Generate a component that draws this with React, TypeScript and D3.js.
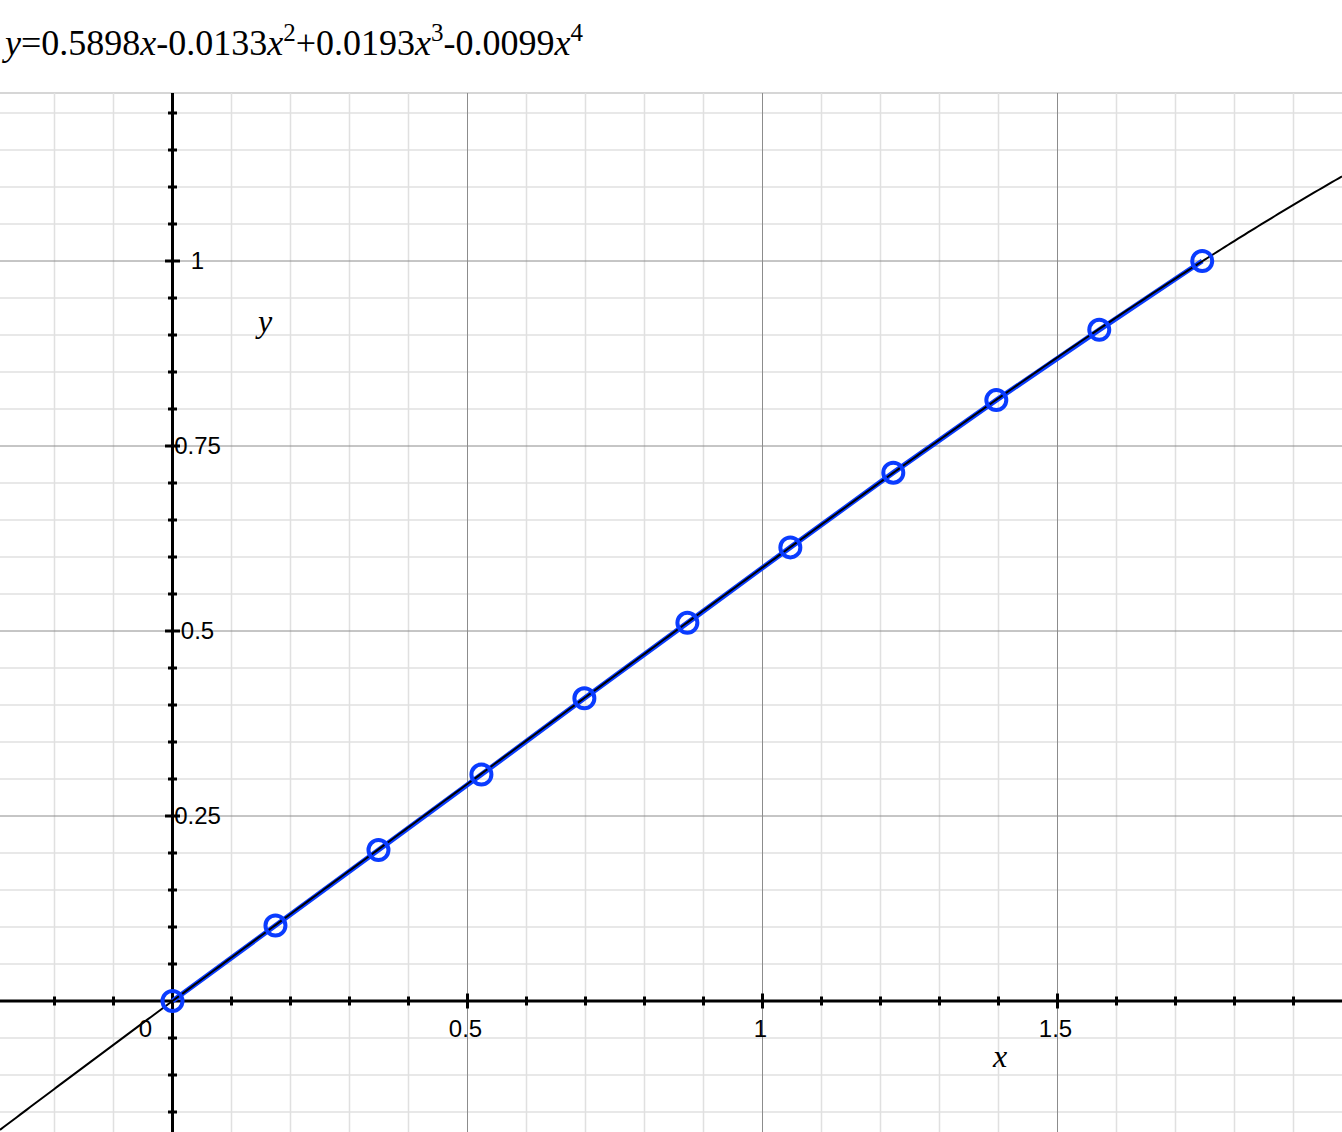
import React from "react";
import * as d3 from "d3";

const W = 1342;
const H = 1132;

const xData = [0, 0.1745, 0.3491, 0.5236, 0.6981, 0.8727, 1.0472, 1.2217, 1.3963, 1.5708, 1.7453];
const yData = [0, 0.102, 0.204, 0.306, 0.409, 0.511, 0.613, 0.714, 0.812, 0.907, 1.0];
const coefs = [0, 0.5898, -0.0133, 0.0193, -0.0099];
const xMajorTicks = [0.5, 1, 1.5];
const xMajorLabels = ["0.5", "1", "1.5"];
const yMajorTicks = [0.25, 0.5, 0.75, 1];
const yMajorLabels = ["0.25", "0.5", "0.75", "1"];

const TOP = 93;

export default function App() {
  const x = d3.scaleLinear().domain([0, 1]).range([172.5, 762.5]);
  const y = d3.scaleLinear().domain([0, 1]).range([1001, 261]);
  const xMin = x.invert(0);
  const xMax = x.invert(W);
  const yMin = y.invert(H);
  const yMax = y.invert(TOP);

  const minorX: number[] = [];
  for (let v = Math.ceil(xMin / 0.1) * 0.1; v <= xMax; v += 0.1) minorX.push(+v.toFixed(4));
  const minorY: number[] = [];
  for (let v = Math.ceil(yMin / 0.05) * 0.05; v <= yMax; v += 0.05) minorY.push(+v.toFixed(4));
  const isMajor = (v: number, step: number) => Math.abs(v / step - Math.round(v / step)) < 1e-6;

  const poly = (t: number) => coefs.reduce((s, c, i) => s + c * Math.pow(t, i), 0);
  const curvePts: [number, number][] = d3.range(0, 401).map((i) => {
    const t = xMin + ((xMax - xMin) * i) / 400;
    return [t, poly(t)];
  });
  const line = d3.line<[number, number]>().x((d) => x(d[0])).y((d) => y(d[1]));
  const pts: [number, number][] = xData.map((v, i) => [v, yData[i]]);

  const blue = "#0a3cff";

  return (
    <div style={{ position: "absolute", left: 0, top: 0 }}>
      <svg width={W} height={H} style={{ display: "block", background: "#fff" }}>
        <defs>
          <clipPath id="plot">
            <rect x={0} y={TOP} width={W} height={H - TOP} />
          </clipPath>
        </defs>
        <text x={5} y={55} fontFamily="'Liberation Serif', 'Times New Roman', serif" fontSize={36} fill="#000">
          <tspan fontStyle="italic">y</tspan>
          <tspan>=0.5898</tspan>
          <tspan fontStyle="italic">x</tspan>
          <tspan>-0.0133</tspan>
          <tspan fontStyle="italic">x</tspan>
          <tspan fontSize={25} dy={-14}>2</tspan>
          <tspan dy={14}>+0.0193</tspan>
          <tspan fontStyle="italic">x</tspan>
          <tspan fontSize={25} dy={-14}>3</tspan>
          <tspan dy={14}>-0.0099</tspan>
          <tspan fontStyle="italic">x</tspan>
          <tspan fontSize={25} dy={-14}>4</tspan>
        </text>
        <line x1={0} x2={W} y1={TOP} y2={TOP} stroke="#d6d6d6" strokeWidth={2} />
        <g clipPath="url(#plot)">
          {minorX.filter((v) => !isMajor(v, 0.5)).map((v) => (
            <line key={"gx" + v} x1={x(v)} x2={x(v)} y1={TOP} y2={H} stroke="#e0e0e0" strokeWidth={1.5} />
          ))}
          {minorY.filter((v) => !isMajor(v, 0.25)).map((v) => (
            <line key={"gy" + v} x1={0} x2={W} y1={y(v)} y2={y(v)} stroke="#e0e0e0" strokeWidth={1.5} />
          ))}
          {minorX.filter((v) => isMajor(v, 0.5) && Math.abs(v) > 1e-6).map((v) => (
            <line key={"Gx" + v} x1={x(v)} x2={x(v)} y1={TOP} y2={H} stroke="#8c8c8c" strokeWidth={1} />
          ))}
          {minorY.filter((v) => isMajor(v, 0.25) && Math.abs(v) > 1e-6).map((v) => (
            <line key={"Gy" + v} x1={0} x2={W} y1={y(v)} y2={y(v)} stroke="#8c8c8c" strokeWidth={1} />
          ))}
          {/* axes */}
          <line x1={0} x2={W} y1={y(0)} y2={y(0)} stroke="#000" strokeWidth={3} />
          <line x1={x(0)} x2={x(0)} y1={TOP} y2={H} stroke="#000" strokeWidth={3} />
          {minorX.filter((v) => Math.abs(v) > 1e-6).map((v) => {
            const len = isMajor(v, 0.5) ? 7.5 : 4.5;
            return <line key={"tx" + v} x1={x(v)} x2={x(v)} y1={y(0) - len} y2={y(0) + len} stroke="#000" strokeWidth={3} />;
          })}
          {minorY.filter((v) => Math.abs(v) > 1e-6).map((v) => {
            const len = isMajor(v, 0.25) ? 7.5 : 4.5;
            return <line key={"ty" + v} x1={x(0) - len} x2={x(0) + len} y1={y(v)} y2={y(v)} stroke="#000" strokeWidth={3} />;
          })}
          {/* data line and curve */}
          <path d={line(pts) || ""} fill="none" stroke={blue} strokeWidth={5} />
          <path d={line(curvePts) || ""} fill="none" stroke="#000" strokeWidth={2} />
          {pts.map((p, i) => (
            <circle key={"c" + i} cx={x(p[0])} cy={y(p[1])} r={10} fill="none" stroke={blue} strokeWidth={4} />
          ))}
        </g>
        {/* tick labels */}
        <g fontFamily="'Liberation Sans', Arial, sans-serif" fontSize={24} fill="#000">
          {xMajorTicks.map((v, i) => (
            <text key={"lx" + v} x={x(v) - 2} y={y(0) + 36} textAnchor="middle">{xMajorLabels[i]}</text>
          ))}
          {yMajorTicks.map((v, i) => (
            <text key={"ly" + v} x={x(0) + 25} y={y(v) + 8} textAnchor="middle">{yMajorLabels[i]}</text>
          ))}
          <text x={x(0) - 27} y={y(0) + 36} textAnchor="middle">0</text>
        </g>
        <text x={265} y={332} textAnchor="middle" fontFamily="'Liberation Serif', 'Times New Roman', serif" fontStyle="italic" fontSize={32}>y</text>
        <text x={1000} y={1067} textAnchor="middle" fontFamily="'Liberation Serif', 'Times New Roman', serif" fontStyle="italic" fontSize={32}>x</text>
      </svg>
    </div>
  );
}
